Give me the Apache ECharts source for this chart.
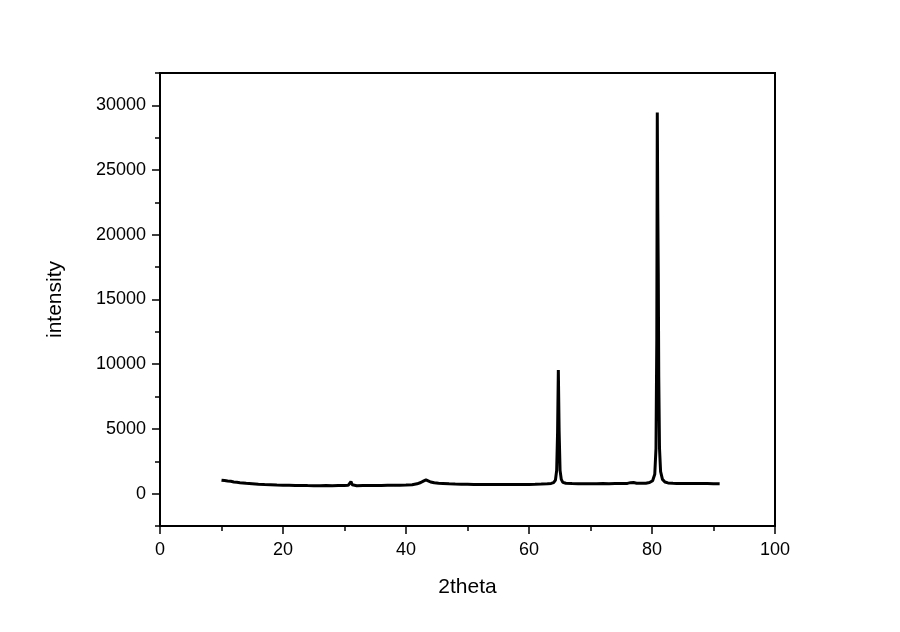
<!DOCTYPE html>
<html>
<head>
<meta charset="utf-8">
<script src="https://cdn.jsdelivr.net/npm/echarts@6/dist/echarts.min.js"></script>
<style>
  html, body { margin: 0; padding: 0; background: #fff; }
  #xrd { width: 900px; height: 632px; }
</style>
</head>
<body>
<div id="xrd"></div>
<script>
// 2theta / intensity
var theta = [
  10, 10.5, 11, 11.5, 12, 12.5, 13, 13.5, 14, 15, 16, 17, 18, 19, 20,
  21, 22, 23, 24, 25, 26, 27, 28, 29, 30, 30.6, 30.85, 31.05, 31.25, 31.5,
  32, 33, 34, 35, 36, 37, 38, 39, 40, 41, 41.8, 42.4, 42.9, 43.25, 43.6,
  44, 44.6, 45.3, 46, 47, 48, 49, 50, 51, 52, 53, 54, 55, 56, 57,
  58, 59, 60, 61, 62, 63, 63.6, 64, 64.3, 64.5, 64.65, 64.77, 64.9, 65.05, 65.25,
  65.5, 66, 67, 68, 69, 70, 71, 72, 73, 74, 75, 76, 76.5, 76.75, 77,
  77.5, 78, 79, 79.6, 80.1, 80.45, 80.65, 80.78, 80.86, 80.94, 81.02, 81.1, 81.22, 81.4, 81.7,
  82.1, 82.6, 83.4, 84, 85, 86, 87, 88, 89, 90, 91
];
var intensity = [
  1040, 1010, 975, 950, 905, 880, 850, 830, 795, 760, 725, 700, 685, 665, 655,
  645, 635, 630, 620, 618, 612, 620, 615, 625, 630, 640, 700, 930, 690, 630,
  615, 620, 625, 630, 628, 640, 645, 650, 660, 690, 760, 860, 990, 1060, 990,
  900, 840, 810, 790, 760, 740, 725, 720, 715, 712, 705, 710, 705, 700, 702,
  705, 710, 715, 725, 740, 760, 790, 850, 1050, 1800, 4800, 9550, 4800, 1800, 1100,
  870, 800, 780, 770, 770, 765, 770, 775, 770, 780, 785, 790, 850, 910, 860,
  800, 795, 810, 860, 1000, 1500, 3500, 12000, 29450, 22000, 17000, 9000, 3500, 1700, 1100,
  900, 830, 800, 790, 785, 790, 780, 775, 780, 770, 765
];
var majorY = [0, 5000, 10000, 15000, 20000, 25000, 30000];
var minorY = [-2500, 2500, 7500, 12500, 17500, 22500, 27500, 32500];

var points = [];
for (var i = 0; i < theta.length; i++) {
  points.push([theta[i], intensity[i]]);
}

var myChart = echarts.init(document.getElementById('xrd'));

var font = 'Liberation Sans, Arial, sans-serif';

option = {
  animation: false,
  backgroundColor: '#fff',
  grid: {
    left: 160, right: 125, top: 73, bottom: 106,
    show: true, borderColor: '#000', borderWidth: 2
  },
  xAxis: {
    type: 'value',
    min: 0, max: 100, interval: 20,
    name: '2theta',
    nameLocation: 'middle',
    nameGap: 51,
    nameTextStyle: { fontFamily: font, fontSize: 21, color: '#000' },
    axisLine: { onZero: false, lineStyle: { color: '#000', width: 2 } },
    axisTick: { inside: false, length: 8, lineStyle: { color: '#000', width: 1.5 } },
    minorTick: { show: true, splitNumber: 2, length: 5, lineStyle: { color: '#000', width: 1.5 } },
    axisLabel: { fontFamily: font, fontSize: 18, color: '#000', margin: 15 },
    splitLine: { show: false }
  },
  yAxis: [
    {
      type: 'value',
      min: -2500, max: 32500,
      name: 'intensity',
      nameLocation: 'middle',
      nameRotate: 90,
      nameGap: 94,
      nameTextStyle: { fontFamily: font, fontSize: 21, color: '#000' },
      axisLine: { show: true, onZero: false, lineStyle: { color: '#000', width: 2 } },
      axisTick: { show: true, length: 8, customValues: majorY, lineStyle: { color: '#000', width: 1.5 } },
      axisLabel: {
        fontFamily: font, fontSize: 18, color: '#000', margin: 14, customValues: majorY,
        formatter: function (v) { return String(v); }
      },
      splitLine: { show: false }
    },
    {
      // minor ticks
      type: 'value',
      position: 'left',
      min: -2500, max: 32500,
      axisLine: { show: false, onZero: false },
      axisTick: { show: true, length: 5, customValues: minorY, lineStyle: { color: '#000', width: 1.5 } },
      axisLabel: { show: false },
      splitLine: { show: false }
    }
  ],
  series: [
    {
      type: 'line',
      yAxisIndex: 0,
      data: points,
      showSymbol: false,
      symbol: 'none',
      lineStyle: { color: '#000', width: 3 }
    }
  ]
};

myChart.setOption(option);
</script>
</body>
</html>
